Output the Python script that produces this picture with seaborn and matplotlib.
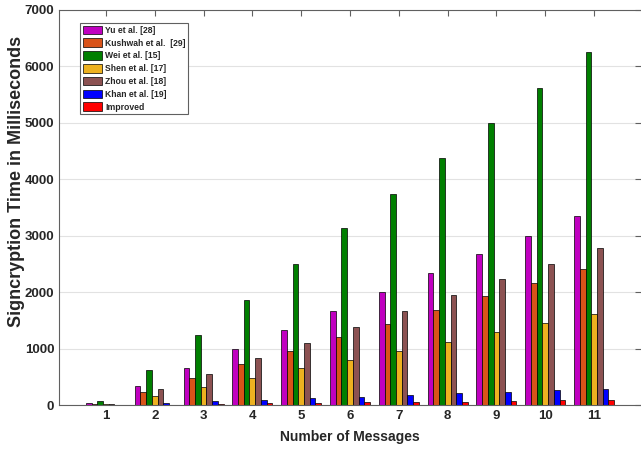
import pandas as pd
import matplotlib
matplotlib.use('Agg')
import matplotlib.pyplot as plt
import seaborn as sns

messages = ['1', '2', '3', '4', '5', '6', '7', '8', '9', '10', '11']
methods = ['Yu et al. [28]', 'Kushwah et al.  [29]', 'Wei et al. [15]', 'Shen et al. [17]',
           'Zhou et al. [18]', 'Khan et al. [19]', 'Improved']

yu = [30, 331, 662, 990, 1330, 1667, 1995, 2337, 2669, 3000, 3343]
kushwah = [18, 236, 473, 727, 957, 1205, 1432, 1680, 1923, 2166, 2408]
wei = [65, 620, 1246, 1865, 2499, 3130, 3740, 4379, 4994, 5614, 6252]
shen = [12, 160, 319, 473, 650, 805, 964, 1118, 1290, 1450, 1609]
zhou = [12, 278, 549, 827, 1105, 1390, 1663, 1953, 2225, 2497, 2781]
khan = [8, 35, 71, 89, 118, 148, 178, 207, 231, 260, 290]
improved = [4, 8, 18, 35, 35, 47, 59, 59, 71, 89, 89]

colors = ['#C000C0', '#D95319', '#007F00', '#EDB120', '#8C5252', '#0000FF', '#FF0000']


def build_df():
    series = [yu, kushwah, wei, shen, zhou, khan, improved]
    rows = []
    for name, vals in zip(methods, series):
        for m, v in zip(messages, vals):
            rows.append({'Messages': m, 'Method': name, 'Time': v})
    return pd.DataFrame(rows)


def main():
    df = build_df()
    fig = plt.figure(figsize=(6.41, 4.57), dpi=100)
    ax = fig.add_axes([59 / 641, 52 / 457, 582 / 641, 395 / 457])
    sns.barplot(data=df, x='Messages', y='Time', hue='Method', order=messages,
                hue_order=methods, palette=dict(zip(methods, colors)), width=0.82,
                edgecolor='black', linewidth=0.5, saturation=1, ax=ax)

    ax.set_xlim(-0.96, 10.96)
    ax.set_ylim(0, 7000)
    ax.set_yticks(range(0, 7001, 1000))
    ax.yaxis.grid(True, color='#e2e2e2', linewidth=0.8)
    ax.set_axisbelow(True)
    for side in ['left', 'top', 'bottom']:
        ax.spines[side].set_color('#606060')
        ax.spines[side].set_linewidth(0.8)
    ax.spines['right'].set_visible(False)
    ax.tick_params(direction='in', length=4, width=0.8, color='#606060',
                   top=True, right=True, labelsize=9.5)
    ax.tick_params(axis='x', bottom=False)
    for lab in ax.get_xticklabels() + ax.get_yticklabels():
        lab.set_fontweight('bold')

    ax.set_xlabel('Number of Messages', fontsize=10, fontweight='bold', labelpad=6)
    ax.set_ylabel('Signcryption Time in Milliseconds', fontsize=13, fontweight='bold')
    ax.yaxis.set_label_coords(-0.058, 0.565)

    leg = ax.legend(loc='upper left', bbox_to_anchor=(0.036, 0.967),
                    prop={'weight': 'bold', 'size': 6.2},
                    handlelength=2.3, handleheight=1.15, labelspacing=0.42,
                    handletextpad=0.3, borderpad=0.3, borderaxespad=0, fancybox=False,
                    framealpha=1)
    leg.get_frame().set_edgecolor('#606060')
    leg.get_frame().set_linewidth(0.8)

    fig.savefig('out.png', dpi=100)


if __name__ == '__main__':
    sns.set_theme(style='white')
    plt.rcParams['font.family'] = ['Liberation Sans', 'DejaVu Sans']
    main()
